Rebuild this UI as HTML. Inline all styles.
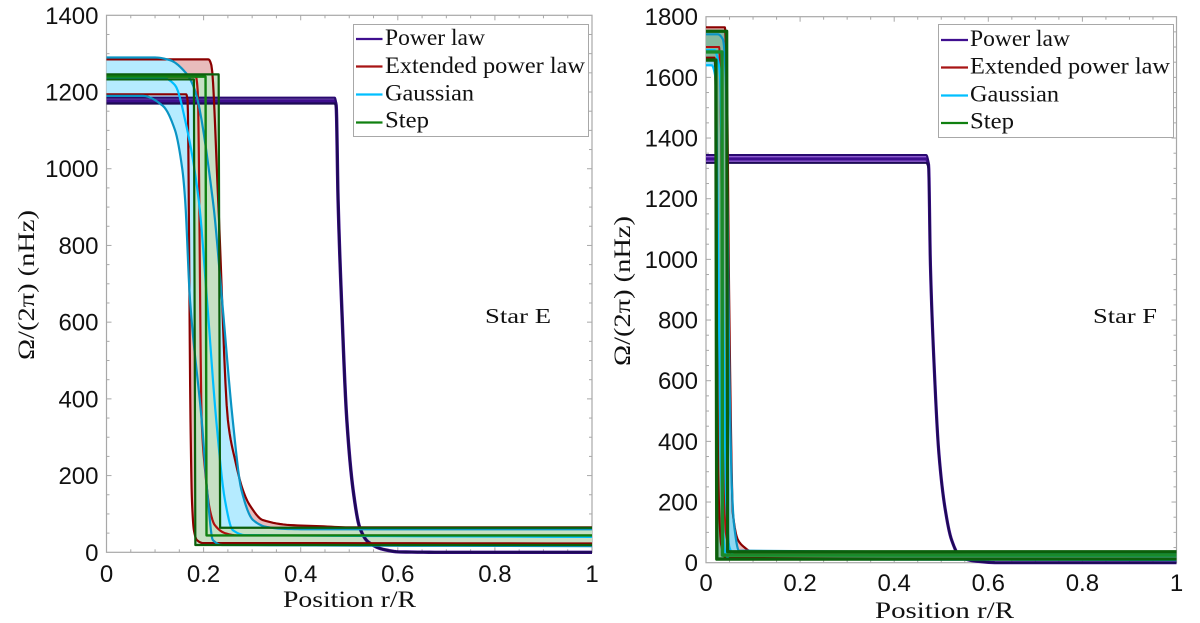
<!DOCTYPE html>
<html>
<head>
<meta charset="utf-8">
<title>Rotation profiles for Star E and Star F</title>
<style>
html,body{margin:0;padding:0;background:#fff;width:1200px;height:623px;overflow:hidden}
svg{display:block}
.tick{font-family:"Liberation Sans",sans-serif;font-size:24px;fill:#111}
.lab{font-family:"Liberation Serif",serif;font-size:23px;fill:#111}
.leg{font-family:"Liberation Serif",serif;font-size:23px;fill:#111}
</style>
</head>
<body>
<svg id="chart" xmlns="http://www.w3.org/2000/svg" width="1200" height="623" viewBox="0 0 1200 623">
  <g id="panel-e"></g>
  <g id="panel-f"></g>

  <text class="lab" x="283" y="607" textLength="133" lengthAdjust="spacingAndGlyphs">Position r/R</text>
  <text class="lab" x="875" y="618" textLength="139" lengthAdjust="spacingAndGlyphs">Position r/R</text>
  <text class="lab" transform="translate(34,360) rotate(-90)" textLength="150" lengthAdjust="spacingAndGlyphs">Ω/(2π) (nHz)</text>
  <text class="lab" transform="translate(630,366) rotate(-90)" textLength="150" lengthAdjust="spacingAndGlyphs">Ω/(2π) (nHz)</text>
  <text class="lab" x="485" y="323" textLength="66" lengthAdjust="spacingAndGlyphs" style="font-size:21px">Star E</text>
  <text class="lab" x="1093" y="323" textLength="64" lengthAdjust="spacingAndGlyphs" style="font-size:21px">Star F</text>

  <g>
    <rect x="353.5" y="24.5" width="235" height="112" fill="#fff" stroke="#a8a8a8" stroke-width="1"/>
    <line x1="356" x2="382.5" y1="39" y2="39" stroke="#3f0f8f" stroke-width="2.2"/>
    <text class="leg" x="385" y="45" textLength="100" lengthAdjust="spacingAndGlyphs">Power law</text>
    <line x1="356" x2="382.5" y1="66.5" y2="66.5" stroke="#a81414" stroke-width="2.2"/>
    <text class="leg" x="385" y="73" textLength="200" lengthAdjust="spacingAndGlyphs">Extended power law</text>
    <line x1="356" x2="382.5" y1="94.5" y2="94.5" stroke="#00bfff" stroke-width="2.2"/>
    <text class="leg" x="385" y="100.5" textLength="89" lengthAdjust="spacingAndGlyphs">Gaussian</text>
    <line x1="356" x2="382.5" y1="122.5" y2="122.5" stroke="#108010" stroke-width="2.2"/>
    <text class="leg" x="385" y="127.5" textLength="44" lengthAdjust="spacingAndGlyphs">Step</text>
  </g>
  <g>
    <rect x="938.5" y="24.5" width="235" height="113" fill="#fff" stroke="#a8a8a8" stroke-width="1"/>
    <line x1="941" x2="968" y1="40" y2="40" stroke="#3f0f8f" stroke-width="2.2"/>
    <text class="leg" x="970" y="46" textLength="100" lengthAdjust="spacingAndGlyphs">Power law</text>
    <line x1="941" x2="968" y1="67.5" y2="67.5" stroke="#a81414" stroke-width="2.2"/>
    <text class="leg" x="970" y="73.5" textLength="200" lengthAdjust="spacingAndGlyphs">Extended power law</text>
    <line x1="941" x2="968" y1="95.5" y2="95.5" stroke="#00bfff" stroke-width="2.2"/>
    <text class="leg" x="970" y="101.5" textLength="89" lengthAdjust="spacingAndGlyphs">Gaussian</text>
    <line x1="941" x2="968" y1="123" y2="123" stroke="#108010" stroke-width="2.2"/>
    <text class="leg" x="970" y="128.5" textLength="44" lengthAdjust="spacingAndGlyphs">Step</text>
  </g>
</svg>
<script>
/* ---------- tick labels ---------- */
var xTickValues = [0, 0.2, 0.4, 0.6, 0.8, 1];
var yTicksE = [0, 200, 400, 600, 800, 1000, 1200, 1400];
var yTicksF = [0, 200, 400, 600, 800, 1000, 1200, 1400, 1600, 1800];

/* ---------- Star E ---------- */
var powerRE = [0, 0.470, 0.473, 0.477, 0.484, 0.495, 0.508, 0.522, 0.539, 0.569, 0.605, 0.7, 1];
var powerE1 = [1185, 1185, 1170, 918, 658, 345, 162, 63, 27, 8, 1, 0, 0];
var powerE2 = [1177, 1177, 1165, 918, 658, 345, 162, 63, 27, 8, 1, 0, 0];
var powerE3 = [1170, 1170, 1160, 918, 658, 345, 162, 63, 27, 8, 1, 0, 0];

var extLowRE = [0, 0.164, 0.167, 0.173, 0.176, 0.180, 0.186, 0.199, 0.254, 1];
var extLowE = [1194, 1194, 1178, 345, 136, 58, 32, 24, 24, 23];
var extMidRE = [0, 0.184, 0.188, 0.196, 0.203, 0.213, 0.223, 0.244, 0.269, 1];
var extMidE = [1240, 1240, 1200, 345, 215, 110, 71, 50, 44, 44];
var extUpRE = [0, 0.210, 0.216, 0.230, 0.250, 0.265, 0.281, 0.295, 0.322, 0.378, 0.44, 0.5, 1];
var extUpE = [1285, 1285, 1270, 918, 345, 240, 162, 123, 84, 71, 68, 65, 65];

var gaussLowRE = [0, 0.075, 0.116, 0.141, 0.156, 0.162, 0.172, 0.196, 0.209, 0.219, 0.238, 1];
var gaussLowE = [1190, 1190, 1164, 1101, 1000, 918, 658, 345, 136, 32, 19, 16];
var gaussMidRE = [0, 0.12, 0.141, 0.165, 0.19, 0.207, 0.226, 0.244, 0.26, 0.285, 1];
var gaussMidE = [1235, 1235, 1218, 1109, 918, 658, 345, 136, 58, 45, 40];
var gaussUpRE = [0, 0.10, 0.131, 0.162, 0.182, 0.219, 0.238, 0.26, 0.278, 0.302, 0.33, 0.368, 0.42, 1];
var gaussUpE = [1290, 1290, 1283, 1252, 1205, 918, 658, 345, 162, 84, 66, 61, 60, 60];

var stepLowRE = [0, 0.180, 0.183, 1];
var stepLowE = [1233, 1233, 19, 19];
var stepMidRE = [0, 0.204, 0.206, 1];
var stepMidE = [1240, 1240, 44, 44];
var stepUpRE = [0, 0.231, 0.234, 1];
var stepUpE = [1246, 1246, 64, 64];

/* ---------- Star F ---------- */
var powerRF = [0, 0.468, 0.473, 0.477, 0.484, 0.495, 0.508, 0.522, 0.54, 0.569, 0.62, 1];
var powerF1 = [1344, 1344, 1320, 980, 680, 360, 180, 75, 20, 6, 0, 0];
var powerF2 = [1331, 1331, 1312, 980, 680, 360, 180, 75, 20, 6, 0, 0];
var powerF3 = [1318, 1318, 1300, 980, 680, 360, 180, 75, 20, 6, 0, 0];

var extLowRF = [0, 0.018, 0.022, 0.026, 0.032, 0.042, 1];
var extLowF = [1665, 1665, 1400, 300, 60, 16, 12];
var extMidRF = [0, 0.028, 0.032, 0.036, 0.042, 0.055, 1];
var extMidF = [1700, 1700, 1400, 500, 100, 30, 25];
var extUpRF = [0, 0.040, 0.045, 0.049, 0.055, 0.057, 0.068, 0.083, 0.094, 0.115, 1];
var extUpF = [1765, 1765, 1525, 900, 273, 164, 75, 49, 38, 35, 33];

var gaussLowRF = [0, 0.012, 0.020, 0.026, 0.032, 0.040, 0.050, 1];
var gaussLowF = [1640, 1640, 1600, 1000, 300, 40, 12, 9];
var gaussMidRF = [0, 0.018, 0.025, 0.03, 0.037, 0.043, 0.05, 0.06, 1];
var gaussMidF = [1690, 1690, 1660, 1600, 800, 200, 50, 25, 22];
var gaussUpRF = [0, 0.025, 0.036, 0.042, 0.05, 0.055, 0.06, 0.07, 1];
var gaussUpF = [1742, 1742, 1725, 1600, 600, 250, 120, 40, 32];

var stepLowRF = [0, 0.021, 0.023, 1];
var stepLowF = [1657, 1657, 12, 12];
var stepMidRF = [0, 0.034, 0.035, 1];
var stepMidF = [1684, 1684, 25, 25];
var stepUpRF = [0, 0.044, 0.046, 1];
var stepUpF = [1752, 1752, 36, 36];

var NS = 'http://www.w3.org/2000/svg';

function makeAxes(frame) {
  return {
    x: function (r) { return frame.left + (frame.right - frame.left) * r; },
    y: function (w) { return frame.bottom - (frame.bottom - frame.top) * w / frame.yMax; }
  };
}

/* Monotone cubic interpolation through the data points, no overshoot */
function pointList(axes, rs, ws) {
  var n = rs.length, i, s = [], d = [];
  for (i = 0; i < n - 1; i++) s.push((ws[i + 1] - ws[i]) / (rs[i + 1] - rs[i]));
  d[0] = s[0];
  d[n - 1] = s[n - 2];
  for (i = 1; i < n - 1; i++) {
    d[i] = (s[i - 1] * s[i] <= 0) ? 0 : 2 * s[i - 1] * s[i] / (s[i - 1] + s[i]);
  }
  var out = [];
  for (i = 0; i < n - 1; i++) {
    var h = rs[i + 1] - rs[i];
    var sub = n > 4 ? 8 : 1;
    for (var k = 0; k < sub; k++) {
      var t = k / sub, t2 = t * t, t3 = t2 * t;
      var w = (2 * t3 - 3 * t2 + 1) * ws[i] + (t3 - 2 * t2 + t) * h * d[i] +
              (-2 * t3 + 3 * t2) * ws[i + 1] + (t3 - t2) * h * d[i + 1];
      out.push(axes.x(rs[i] + t * h).toFixed(2) + ',' + axes.y(w).toFixed(2));
    }
  }
  out.push(axes.x(rs[n - 1]).toFixed(2) + ',' + axes.y(ws[n - 1]).toFixed(2));
  return out;
}

function addBand(parent, axes, name, upR, upW, loR, loW, fill) {
  var pts = pointList(axes, upR, upW).concat(pointList(axes, loR, loW).reverse());
  var el = document.createElementNS(NS, 'polygon');
  
  
  el.setAttribute('points', pts.join(' '));
  el.setAttribute('fill', fill);
  parent.appendChild(el);
}

function addCurve(parent, axes, name, rs, ws, color, width) {
  var el = document.createElementNS(NS, 'polyline');
  
  
  el.setAttribute('points', pointList(axes, rs, ws).join(' '));
  el.setAttribute('fill', 'none');
  el.setAttribute('stroke', color);
  el.setAttribute('stroke-width', width);
  el.setAttribute('stroke-linejoin', 'round');
  parent.appendChild(el);
}

function addTickLine(parent, x1, y1, x2, y2) {
  var el = document.createElementNS(NS, 'line');
  
  
  el.setAttribute('x1', x1);
  el.setAttribute('y1', y1);
  el.setAttribute('x2', x2);
  el.setAttribute('y2', y2);
  el.setAttribute('stroke', '#a8a8a8');
  el.setAttribute('stroke-width', 1);
  parent.appendChild(el);
}

function addTickText(parent, name, x, y, anchor, str) {
  var el = document.createElementNS(NS, 'text');
  
  
  el.setAttribute('class', 'tick');
  el.setAttribute('x', x);
  el.setAttribute('y', y);
  el.setAttribute('text-anchor', anchor);
  el.textContent = str;
  parent.appendChild(el);
}

function drawAxes(g, axes, f, yTicks) {
  var box = document.createElementNS(NS, 'rect');
  
  
  box.setAttribute('x', f.left);
  box.setAttribute('y', f.top);
  box.setAttribute('width', f.right - f.left);
  box.setAttribute('height', f.bottom - f.top);
  box.setAttribute('fill', 'none');
  box.setAttribute('stroke', '#a8a8a8');
  box.setAttribute('stroke-width', 1.2);
  g.appendChild(box);
  var i, len, px;
  for (i = 1; i < 20; i++) {
    px = axes.x(i * 0.05);
    len = i % 4 === 0 ? 5 : 3;
    addTickLine(g, px, f.bottom, px, f.bottom - len);
    addTickLine(g, px, f.top, px, f.top + len);
  }
  var steps = Math.round(f.yMax / 50);
  for (i = 1; i < steps; i++) {
    px = axes.y(i * 50);
    len = i % 4 === 0 ? 5 : 3;
    addTickLine(g, f.left, px, f.left + len, px);
    addTickLine(g, f.right, px, f.right - len, px);
  }
  xTickValues.forEach(function (v) {
    addTickText(g, 'x-tick-label', axes.x(v), f.xLabelY, 'middle', String(v));
  });
  yTicks.forEach(function (v) {
    addTickText(g, 'y-tick-label', f.left - 8, axes.y(v) + 8.5, 'end', String(v));
  });
}

/* Star E */
(function () {
  var f = { left: 106.5, right: 592, top: 15.3, bottom: 552.3, yMax: 1400, xLabelY: 582 };
  var axes = makeAxes(f);
  var g = document.getElementById('panel-e');
  drawAxes(g, axes, f, yTicksE);
  addBand(g, axes, 'extended-power-law-band', extUpRE, extUpE, extLowRE, extLowE, '#e8bcbc');
  addBand(g, axes, 'gaussian-band', gaussUpRE, gaussUpE, gaussLowRE, gaussLowE, '#b5ebff');
  addBand(g, axes, 'step-band', stepUpRE, stepUpE, stepLowRE, stepLowE, '#c6e0c4');
  addCurve(g, axes, 'power-law-median', powerRE, powerE2, '#3f0f8f', 3.4);
  addCurve(g, axes, 'power-law-upper', powerRE, powerE1, '#2a0a70', 2.2);
  addCurve(g, axes, 'power-law-lower', powerRE, powerE3, '#1d0a55', 2.2);
  addCurve(g, axes, 'extended-power-law-upper', extUpRE, extUpE, '#8b0000', 2.2);
  addCurve(g, axes, 'extended-power-law-median', extMidRE, extMidE, '#b01010', 2.2);
  addCurve(g, axes, 'extended-power-law-lower', extLowRE, extLowE, '#8b0000', 2.2);
  addCurve(g, axes, 'gaussian-upper', gaussUpRE, gaussUpE, '#0a94c4', 2.2);
  addCurve(g, axes, 'gaussian-median', gaussMidRE, gaussMidE, '#00bfff', 2.2);
  addCurve(g, axes, 'gaussian-lower', gaussLowRE, gaussLowE, '#0a94c4', 2.2);
  addCurve(g, axes, 'step-lower', stepLowRE, stepLowE, '#0b5f0b', 2.2);
  addCurve(g, axes, 'step-median', stepMidRE, stepMidE, '#108010', 2.4);
  addCurve(g, axes, 'step-upper', stepUpRE, stepUpE, '#0b5f0b', 2.2);
})();

/* Star F */
(function () {
  var f = { left: 706, right: 1176.5, top: 16.7, bottom: 562.7, yMax: 1800, xLabelY: 591 };
  var axes = makeAxes(f);
  var g = document.getElementById('panel-f');
  drawAxes(g, axes, f, yTicksF);
  addBand(g, axes, 'power-law-band', powerRF, powerF1, powerRF, powerF3, '#8e5cd0');
  addCurve(g, axes, 'power-law-median', powerRF, powerF2, '#3f0f8f', 3.2);
  addCurve(g, axes, 'power-law-upper', powerRF, powerF1, '#2a0a70', 2);
  addCurve(g, axes, 'power-law-lower', powerRF, powerF3, '#1d0a55', 2);
  addBand(g, axes, 'extended-power-law-band', extUpRF, extUpF, extLowRF, extLowF, '#e8bcbc');
  addBand(g, axes, 'gaussian-band', gaussUpRF, gaussUpF, gaussLowRF, gaussLowF, '#8fd8f2');
  addBand(g, axes, 'step-band', stepUpRF, stepUpF, stepLowRF, stepLowF, '#84b89e');
  addCurve(g, axes, 'extended-power-law-upper', extUpRF, extUpF, '#8b0000', 2.2);
  addCurve(g, axes, 'extended-power-law-median', extMidRF, extMidF, '#b01010', 2);
  addCurve(g, axes, 'extended-power-law-lower', extLowRF, extLowF, '#8b0000', 2);
  addCurve(g, axes, 'gaussian-upper', gaussUpRF, gaussUpF, '#0a94c4', 2.2);
  addCurve(g, axes, 'gaussian-median', gaussMidRF, gaussMidF, '#00bfff', 2.2);
  addCurve(g, axes, 'gaussian-lower', gaussLowRF, gaussLowF, '#00bfff', 2.2);
  addCurve(g, axes, 'step-lower', stepLowRF, stepLowF, '#0b5f0b', 3.4);
  addCurve(g, axes, 'step-upper', stepUpRF, stepUpF, '#0b5f0b', 3.2);
  addCurve(g, axes, 'step-median', stepMidRF, stepMidF, '#1a8a2a', 3.4);
})();
</script>
</body>
</html>
